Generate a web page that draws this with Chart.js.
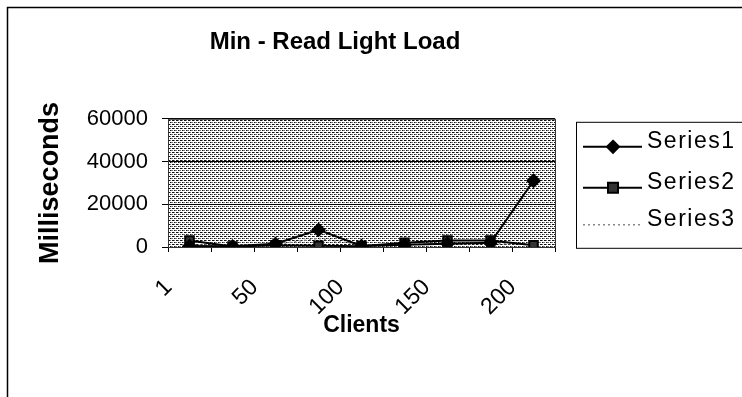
<!DOCTYPE html>
<html>
<head>
<meta charset="utf-8">
<script src="https://cdn.jsdelivr.net/npm/chart.js@4/dist/chart.umd.min.js"></script>
<style>
    html, body { margin: 0; padding: 0; background: #fff; }
    #wrap { width: 742px; height: 397px; }
</style>
</head>
<body>
<div id="wrap"><canvas id="chart-min-read"></canvas></div>
<script>
// datos
const CLIENTES = ['1', '25', '50', '75', '100', '125', '150', '175', '200'];
const ETIQUETAS_VISIBLES = ['1', '50', '100', '150', '200'];
const SERIE1 = [500, 300, 1500, 8000, 500, 1000, 1500, 2000, 31000];
const SERIE2 = [3000, 200, 800, 600, 400, 2000, 3000, 3000, 800];
const SERIE3 = [1000, 800, 1200, 4000, 1000, 1200, 1500, 1500, 1500];
const NOMBRES = ['Series1', 'Series2', 'Series3'];
const Y_MIN = 0;
const Y_MAX = 60000;
const Y_PASO = 20000;

const FUENTE = "'Liberation Sans', Arial, sans-serif";

// patron de puntos del area de trazado (gris tramado)
function crearPatron(ctx) {
    const c = document.createElement('canvas');
    c.width = 4;
    c.height = 4;
    const g = c.getContext('2d');
    g.fillStyle = '#fff';
    g.fillRect(0, 0, 4, 4);
    g.fillStyle = '#111';
    g.fillRect(0, 0, 1, 1);
    g.fillRect(2, 2, 1, 1);
    g.fillRect(1, 0, 1, 1);
    g.fillStyle = '#777';
    g.fillRect(2, 0, 1, 1);
    g.fillRect(0, 2, 1, 1);
    g.fillRect(3, 2, 1, 1);
    return ctx.createPattern(c, 'repeat');
}

// fondo, marco exterior y area de trazado
const fondoPlugin = {
    id: 'fondo',
    beforeDraw(chart) {
        const { ctx, chartArea: a } = chart;
        ctx.save();
        ctx.fillStyle = '#fff';
        ctx.fillRect(0, 0, chart.width, chart.height);
        ctx.strokeStyle = '#000';
        ctx.lineWidth = 1.5;
        ctx.strokeRect(7.5, 7.5, chart.width + 20, chart.height + 20);
        ctx.fillStyle = crearPatron(ctx);
        ctx.fillRect(a.left, a.top, a.right - a.left, a.bottom - a.top);
        ctx.restore();
    },
    afterDatasetsDraw(chart) {
        const { ctx, chartArea: a } = chart;
        ctx.save();
        ctx.strokeStyle = '#333';
        ctx.lineWidth = 1;
        ctx.strokeRect(a.left + 0.5, a.top + 0.5, a.right - a.left, a.bottom - a.top);
        ctx.restore();
    }
};

// leyenda estilo excel: linea con marcador al centro
const leyendaPlugin = {
    id: 'leyendaExcel',
    afterDraw(chart) {
        const { ctx, chartArea: a } = chart;
        const x0 = a.right + 21;
        const y0 = a.top + 3;
        ctx.save();
        ctx.strokeStyle = '#000';
        ctx.lineWidth = 1;
        ctx.strokeRect(x0 + 0.5, y0 + 0.5, 220, 126);

        const filas = [y0 + 25, y0 + 66, y0 + 103];
        chart.data.datasets.forEach((ds, i) => {
            const yl = filas[i];
            ctx.strokeStyle = ds.borderColor;
            ctx.lineWidth = ds.borderWidth;
            ctx.setLineDash(ds.borderDash || []);
            ctx.beginPath();
            ctx.moveTo(x0 + 7, yl);
            ctx.lineTo(x0 + 66, yl);
            ctx.stroke();
            ctx.setLineDash([]);
            if (ds.pointRadius > 0) {
                const cx = x0 + 37;
                ctx.fillStyle = ds.backgroundColor;
                ctx.beginPath();
                if (ds.pointStyle === 'rectRot') {
                    ctx.moveTo(cx, yl - 6);
                    ctx.lineTo(cx + 6, yl);
                    ctx.lineTo(cx, yl + 6);
                    ctx.lineTo(cx - 6, yl);
                    ctx.closePath();
                } else {
                    ctx.rect(cx - 5, yl - 5, 10, 10);
                }
                ctx.fill();
                ctx.stroke();
            }
            ctx.fillStyle = '#000';
            ctx.font = `23px ${FUENTE}`;
            ctx.letterSpacing = '1.5px';
            ctx.textBaseline = 'middle';
            ctx.textAlign = 'left';
            ctx.fillText(ds.label, x0 + 71, yl - 5);
        });
        ctx.restore();
    }
};

const ctx = document.getElementById('chart-min-read').getContext('2d');
const chartMin = new Chart(ctx, {
    type: 'line',
    data: {
        labels: CLIENTES,
        datasets: [
            {
                label: NOMBRES[0],
                data: SERIE1,
                borderColor: '#000',
                backgroundColor: '#000',
                borderWidth: 2,
                pointStyle: 'rectRot',
                pointRadius: 6,
                tension: 0,
            },
            {
                label: NOMBRES[1],
                data: SERIE2,
                borderColor: '#000',
                backgroundColor: '#333',
                borderWidth: 2,
                pointStyle: 'rect',
                pointRadius: 6,
                tension: 0,
            },
            {
                label: NOMBRES[2],
                data: SERIE3,
                borderColor: '#888',
                backgroundColor: '#888',
                borderWidth: 1.5,
                borderDash: [2, 3],
                pointRadius: 0,
                tension: 0,
            }
        ]
    },
    options: {
        responsive: true,
        maintainAspectRatio: false,
        animation: false,
        layout: { padding: { left: 10, right: 82, top: 0, bottom: 20 } },
        plugins: {
            legend: { display: false },
            tooltip: { enabled: false },
            title: {
                display: true,
                text: 'Min - Read Light Load',
                color: '#000',
                font: { family: FUENTE, size: 24, weight: 'bold' },
                padding: { top: 28, bottom: 62 }
            }
        },
        scales: {
            x: {
                offset: true,
                afterFit: (s) => { s.height = 130; },
                ticks: {
                    color: '#000',
                    font: { family: FUENTE, size: 23 },
                    minRotation: 45,
                    maxRotation: 45,
                    autoSkip: false,
                    padding: 22,
                    labelOffset: -21,
                    callback: (v, i) => ETIQUETAS_VISIBLES.includes(CLIENTES[i]) ? CLIENTES[i] : ''
                },
                grid: { offset: true, drawOnChartArea: false, tickLength: 5, color: '#000' },
                border: { color: '#000', width: 1 },
                title: {
                    display: true,
                    text: 'Clients',
                    color: '#000',
                    font: { family: FUENTE, size: 23, weight: 'bold' },
                    padding: { top: 0, bottom: 38 }
                }
            },
            y: {
                min: Y_MIN,
                max: Y_MAX,
                afterFit: (s) => { s.width = 158; },
                ticks: {
                    stepSize: Y_PASO,
                    color: '#000',
                    font: { family: FUENTE, size: 22 },
                    padding: 14,
                    format: { useGrouping: false }
                },
                grid: { color: '#000', lineWidth: 1, tickLength: 6 },
                border: { color: '#000', width: 1 },
                title: {
                    display: true,
                    text: 'Milliseconds',
                    color: '#000',
                    font: { family: FUENTE, size: 27, weight: 'bold' },
                    padding: { top: 24, bottom: 0 }
                }
            },
            // hueco a la derecha para la leyenda
            yLeyenda: {
                position: 'right',
                display: true,
                afterFit: (s) => { s.width = 105; },
                ticks: { display: false },
                grid: { display: false },
                border: { display: false }
            }
        }
    },
    plugins: [fondoPlugin, leyendaPlugin]
});
</script>
</body>
</html>
